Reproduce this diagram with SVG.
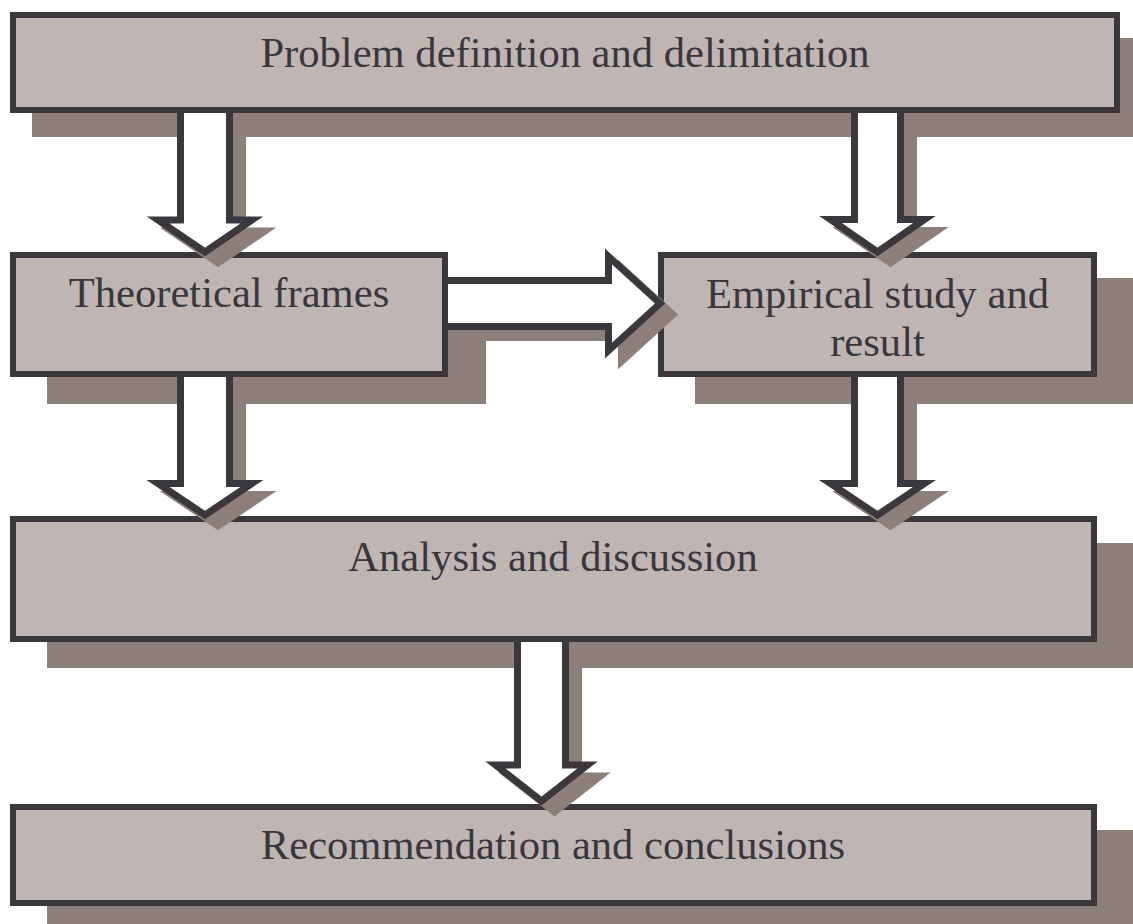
<svg xmlns="http://www.w3.org/2000/svg" width="1133" height="924" viewBox="0 0 1133 924">
<style>
.sh{fill:#8d807b}
.box{fill:#bfb6b4;stroke:#3a383d;stroke-width:6}
.lbl{font-family:'Liberation Serif','DejaVu Serif',serif;font-size:42.6px;fill:#38373c;text-anchor:middle}
.arr{fill:#ffffff;stroke:#3a383d;stroke-width:7;stroke-linejoin:miter;stroke-miterlimit:10}
.ash{fill:#8d807b;stroke:#8d807b;stroke-width:7;stroke-linejoin:miter;stroke-miterlimit:10}
</style>
<rect width="1133" height="924" fill="#ffffff"/>
<g id="shadows">
<rect class="sh" x="32" y="38" width="1110" height="99"/>
<rect class="sh" x="47" y="278" width="439" height="126"/>
<rect class="sh" x="695" y="278" width="450" height="126"/>
<rect class="sh" x="47" y="543" width="1100" height="125"/>
<rect class="sh" x="47" y="830" width="1100" height="100"/>
</g>
<g id="n1"><rect class="box" x="13" y="15" width="1104" height="95"/><text class="lbl" x="565" y="67">Problem definition and delimitation</text></g>
<g id="n2"><rect class="box" x="13" y="255" width="432" height="119"/><text class="lbl" x="229" y="307">Theoretical frames</text></g>
<g id="n3"><rect class="box" x="661" y="255" width="433" height="119"/><text class="lbl" x="877.5" y="308">Empirical study and</text><text class="lbl" x="877.5" y="356">result</text></g>
<g id="n4"><rect class="box" x="13" y="519" width="1081" height="120"/><text class="lbl" x="553" y="571">Analysis and discussion</text></g>
<g id="n5"><rect class="box" x="13" y="807" width="1081" height="96"/><text class="lbl" x="553" y="859">Recommendation and conclusions</text></g>
<g id="connectors">
<g transform="translate(13,11)">
<path class="ash" d="M180.5,113 V220 H158 L205,252 L252,220 H229.5 V113 Z"/>
<path class="ash" d="M854.5,113 V219.5 H830.5 L877.5,252 L924.5,219.5 H900.5 V113 Z"/>
<path class="ash" d="M180.5,377 V483.5 H158 L205,515 L252,483.5 H229.5 V377 Z"/>
<path class="ash" d="M854.5,377 V483.5 H830.5 L877.5,515 L924.5,483.5 H900.5 V377 Z"/>
<path class="ash" d="M517.5,642 V765 H495.5 L541.5,801 L587.5,765 H565.5 V642 Z"/>
<path class="ash" d="M448,280.5 H608.5 V256.5 L660,303.5 L608.5,350.5 V326.5 H448 Z"/>
</g>
<path class="arr" d="M180.5,113 V220 H158 L205,252 L252,220 H229.5 V113"/>
<path class="arr" d="M854.5,113 V219.5 H830.5 L877.5,252 L924.5,219.5 H900.5 V113"/>
<path class="arr" d="M180.5,377 V483.5 H158 L205,515 L252,483.5 H229.5 V377"/>
<path class="arr" d="M854.5,377 V483.5 H830.5 L877.5,515 L924.5,483.5 H900.5 V377"/>
<path class="arr" d="M517.5,642 V765 H495.5 L541.5,801 L587.5,765 H565.5 V642"/>
<path class="arr" d="M448,280.5 H608.5 V256.5 L660,303.5 L608.5,350.5 V326.5 H448"/>
</g>
</svg>
